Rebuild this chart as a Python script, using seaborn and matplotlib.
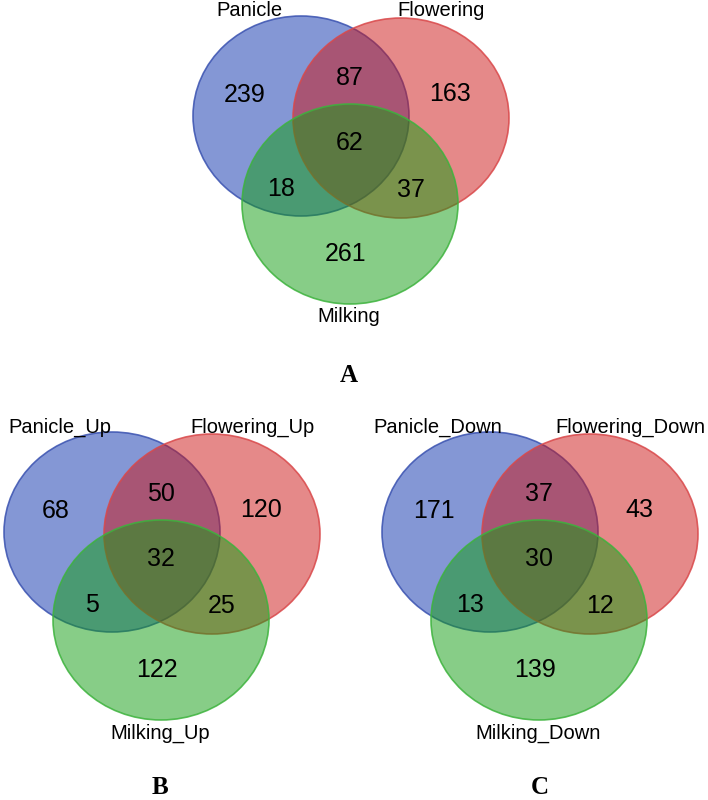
import matplotlib
matplotlib.use("Agg")
import matplotlib.pyplot as plt
from matplotlib.patches import Ellipse
import seaborn as sns

# Data: set names and region counts per panel
# region order: only1, 1&2, only2, 1&2&3, 1&3, 2&3, only3
panel_letters = ["A", "B", "C"]
set_names_a = ["Panicle", "Flowering", "Milking"]
set_names_b = ["Panicle_Up", "Flowering_Up", "Milking_Up"]
set_names_c = ["Panicle_Down", "Flowering_Down", "Milking_Down"]
counts_a = [239, 87, 163, 62, 18, 37, 261]
counts_b = [68, 50, 120, 32, 5, 25, 122]
counts_c = [171, 37, 43, 30, 13, 12, 139]

sns.set_theme(style="white")

fig = plt.figure(figsize=(7.08, 8.0), dpi=100)
ax = fig.add_axes([0, 0, 1, 1])
ax.set_xlim(0, 708)
ax.set_ylim(800, 0)
ax.set_axis_off()

fills = ["#0b31ad", "#cd1515", "#119d11"]
edges = ["#3a52b0", "#d9484a", "#3db33d"]

# circle centres relative to first circle
circ_off = [(0, 0), (100, 2), (49, 88)]
# count text offsets
region_off = [(-56, -21), (49, -38), (149, -22), (49, 27), (-20, 73), (110, 74), (45, 138)]
# set label offsets
label_off = [(-52, -105), (140, -105), (48, 201)]

sans = ["Liberation Sans", "DejaVu Sans"]


def venn3(cx, cy, names, counts):
    for (dx, dy), fc, ec in zip(circ_off, fills, edges):
        ax.add_patch(Ellipse((cx + dx, cy + dy), 216, 200,
                             facecolor=fc, alpha=0.5, edgecolor="none"))
        ax.add_patch(Ellipse((cx + dx, cy + dy), 216, 200,
                             facecolor="none", edgecolor=ec, lw=1.2, alpha=0.85))
    for (dx, dy), n in zip(region_off, counts):
        ax.text(cx + dx, cy + dy, str(n), ha="center", va="center",
                fontsize=18, family=sans, color="black")
    for (dx, dy), name in zip(label_off, names):
        ax.text(cx + dx, cy + dy, name, ha="center", va="center",
                fontsize=14.5, family=sans, color="black")


venn3(301, 116, set_names_a, counts_a)
venn3(112, 532, set_names_b, counts_b)
venn3(490, 532, set_names_c, counts_c)

serif = ["Liberation Serif", "DejaVu Serif"]
for (x, y), letter in zip([(349, 376), (160, 787), (540, 787)], panel_letters):
    ax.text(x, y, letter, ha="center", va="center", fontsize=18,
            fontweight="bold", family=serif, color="black")

fig.savefig("out.png", dpi=100, facecolor="white")
